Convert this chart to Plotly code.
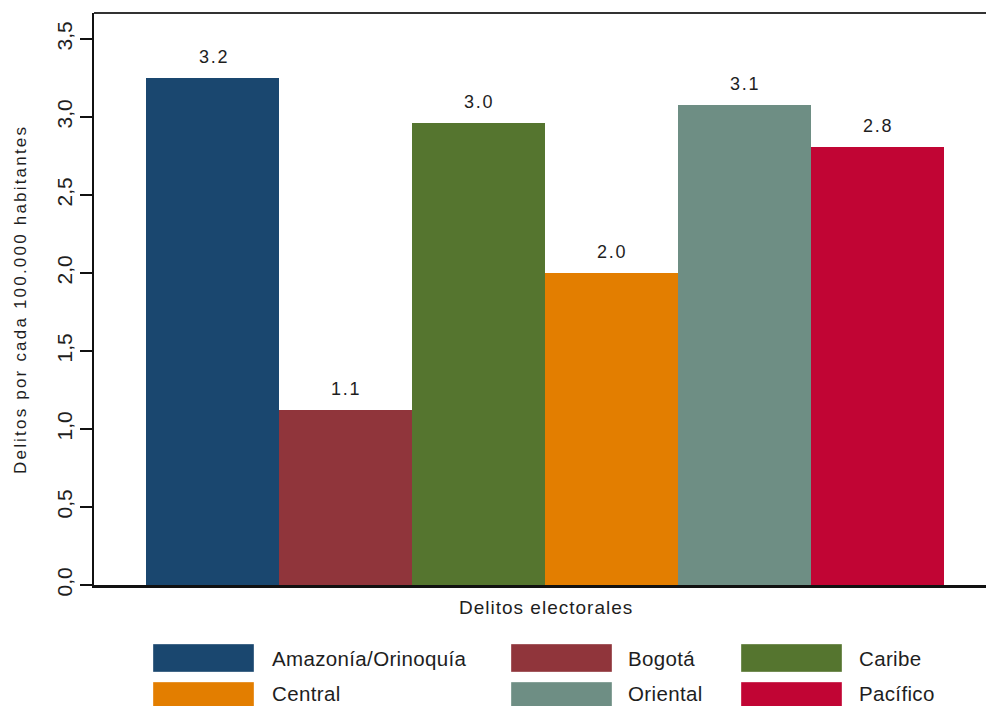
import plotly.graph_objects as go

categories = ["Amazonía/Orinoquía", "Bogotá", "Caribe", "Central", "Oriental", "Pacífico"]
values = [3.25, 1.12, 2.96, 2.00, 3.08, 2.81]
value_labels = ["3.2", "1.1", "3.0", "2.0", "3.1", "2.8"]
colors = ["#1a476f", "#90353b", "#55752f", "#e37e00", "#6e8e84", "#c10534"]
y_ticks = [0, 0.5, 1.0, 1.5, 2.0, 2.5, 3.0, 3.5]
y_title = "Delitos por cada 100.000 habitantes"
x_title = "Delitos electorales"

W, H = 986, 706
L, R, T, B = 94, 0, 13, 121
PW, PH = W - L - R, H - T - B
FONT = "Liberation Sans, Arial, sans-serif"
TXT = "#1e1e1e"

def px_x(px):
    return (px - L) / PW

def px_y(py):
    return (H - B - py) / PH

def spaced(s, ls):
    return f'<span style="letter-spacing:{ls}px">{s}</span>'

fig = go.Figure()
xs = list(range(len(categories)))
fig.add_trace(go.Bar(
    x=xs, y=values, width=1.0,
    marker=dict(color=colors, line=dict(width=0)),
    showlegend=False, hoverinfo="skip",
))

annotations = []
for i, (v, lab) in enumerate(zip(values, value_labels)):
    annotations.append(dict(x=i, y=v, xref="x", yref="y", text=spaced(lab, 1.8), showarrow=False,
                            yshift=21, xshift=1, font=dict(size=18, color=TXT), xanchor="center", yanchor="middle"))

# x axis title
annotations.append(dict(x=px_x(546), y=px_y(607), xref="paper", yref="paper", text=spaced(x_title, 1),
                        showarrow=False, font=dict(size=19, color=TXT), xanchor="center", yanchor="middle"))

# y axis title
annotations.append(dict(x=px_x(20), y=px_y(300), xref="paper", yref="paper", text=spaced(y_title, 2.2),
                        showarrow=False, textangle=-90, font=dict(size=17, color=TXT),
                        xanchor="center", yanchor="middle"))

# legend (manual, Stata style)
swatch_x0 = [153, 511, 741]
swatch_w = 101
label_x = [270, 626, 857]
row_y0 = [644, 682]
sw_h = 28
shapes = []
for idx, (cat, col) in enumerate(zip(categories, colors)):
    r, c = divmod(idx, 3)
    x0 = swatch_x0[c]
    y0 = row_y0[r]
    shapes.append(dict(type="rect", xref="paper", yref="paper",
                       x0=px_x(x0), x1=px_x(x0 + swatch_w), y0=px_y(y0), y1=px_y(y0 + sw_h),
                       fillcolor=col, line=dict(width=0.6, color="rgba(255,255,255,0.6)"), layer="above"))
    ty = y0 + sw_h / 2 if r == 0 else 693
    annotations.append(dict(x=px_x(label_x[c]), y=px_y(ty), xref="paper", yref="paper",
                            text=spaced(cat, 0.35), showarrow=False, font=dict(size=20.5, color=TXT),
                            xanchor="left", yanchor="middle"))

fig.update_layout(
    width=W, height=H,
    margin=dict(l=L, r=R, t=T, b=B, pad=0),
    paper_bgcolor="white", plot_bgcolor="white",
    font=dict(family=FONT, size=16, color=TXT),
    separators=",.",
    bargap=0,
    annotations=annotations,
    shapes=shapes,
    xaxis=dict(range=[-0.891, 5.816], showgrid=False, zeroline=False, showticklabels=False,
               ticks="", showline=True, linecolor="#111", linewidth=2.5, mirror=False, fixedrange=True),
    yaxis=dict(range=[0, 3.667], tickvals=y_ticks, tickformat=".1f", tickangle=-90,
               showgrid=False, zeroline=False, ticks="outside", ticklen=12, tickwidth=1.8,
               tickcolor="#111", showline=True, linecolor="#111", linewidth=1.8,
               tickfont=dict(size=21, color=TXT)),
)
# top border line of plot region
fig.add_shape(type="line", xref="paper", yref="paper", x0=0, x1=1, y0=1, y1=1,
              line=dict(color="#333", width=1.8))

fig.write_html("out.html")
